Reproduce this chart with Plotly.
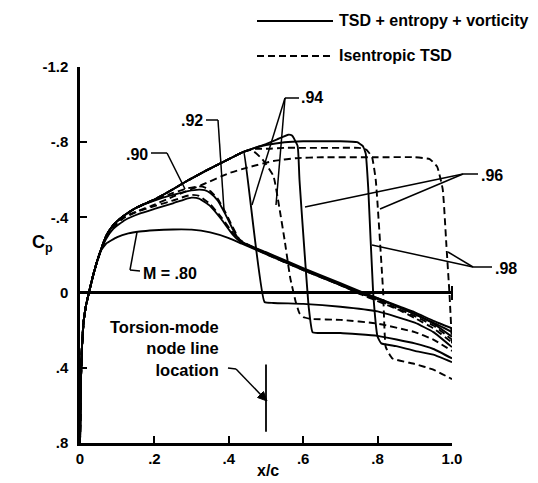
import plotly.graph_objects as go

FONT = "Liberation Sans"

# ---------------- data ----------------
# common leading-edge part shared by every curve
le_x = [0.0, 0.002, 0.005, 0.010, 0.016, 0.024, 0.035, 0.045, 0.055]
le_cp = [0.80, 0.50, 0.30, 0.15, 0.07, 0.00, -0.09, -0.16, -0.22]

# upper envelope shared by M = .94, .96, .98 (solid) ahead of the shocks
env_x = [0.07, 0.09, 0.115, 0.15, 0.20, 0.25, 0.293, 0.34, 0.38, 0.435]
env_cp = [-0.30, -0.36, -0.405, -0.45, -0.495, -0.55, -0.60, -0.65, -0.69, -0.745]

m80_x = [0.07, 0.10, 0.13, 0.16, 0.20, 0.25, 0.30, 0.35, 0.40, 0.435, 0.50, 0.60, 0.70, 0.755, 0.80, 0.86, 0.90, 0.95, 1.00]
m80_cp = [-0.26, -0.295, -0.315, -0.325, -0.332, -0.336, -0.335, -0.32, -0.29, -0.26, -0.205, -0.12, -0.04, 0.005, 0.035, 0.08, 0.115, 0.16, 0.21]

m90_x = [0.07, 0.09, 0.12, 0.16, 0.20, 0.25, 0.28, 0.30, 0.32, 0.35, 0.38, 0.41, 0.435, 0.50, 0.60, 0.70, 0.755, 0.80, 0.86, 0.90, 0.95, 1.00]
m90_solid_cp = [-0.285, -0.34, -0.385, -0.42, -0.445, -0.475, -0.495, -0.505, -0.50, -0.46, -0.39, -0.31, -0.265, -0.21, -0.125, -0.045, 0.0, 0.03, 0.075, 0.105, 0.15, 0.19]
m90_dash_cp = [-0.29, -0.35, -0.40, -0.435, -0.46, -0.49, -0.51, -0.52, -0.515, -0.47, -0.40, -0.32, -0.27, -0.205, -0.12, -0.04, 0.005, 0.04, 0.09, 0.125, 0.175, 0.25]

m92_x = [0.07, 0.09, 0.115, 0.15, 0.20, 0.25, 0.29, 0.32, 0.335, 0.35, 0.37, 0.39, 0.41, 0.43, 0.50, 0.60, 0.70, 0.755, 0.80, 0.86, 0.90, 0.95, 1.00]
m92_solid_cp = [-0.30, -0.36, -0.405, -0.45, -0.49, -0.52, -0.54, -0.548, -0.545, -0.53, -0.49, -0.42, -0.34, -0.275, -0.215, -0.13, -0.05, -0.005, 0.03, 0.08, 0.115, 0.165, 0.235]
m92_dash_cp = [-0.30, -0.36, -0.405, -0.45, -0.495, -0.53, -0.555, -0.565, -0.56, -0.54, -0.50, -0.43, -0.35, -0.28, -0.21, -0.125, -0.04, 0.01, 0.045, 0.095, 0.135, 0.19, 0.265]

m94_solid_x = [0.44, 0.496, 0.52, 0.60, 0.70, 0.80, 0.90, 0.95, 1.00]
m94_solid_cp = [-0.75, 0.05, 0.055, 0.06, 0.075, 0.10, 0.16, 0.21, 0.29]
m94_dash_x = [0.46, 0.49, 0.52, 0.536, 0.55, 0.565, 0.58, 0.59, 0.60, 0.62, 0.70, 0.80, 0.90, 0.95, 1.00]
m94_dash_cp = [-0.76, -0.71, -0.62, -0.45, -0.28, -0.08, 0.05, 0.11, 0.13, 0.14, 0.145, 0.165, 0.21, 0.25, 0.31]

m96_solid_x = [0.47, 0.50, 0.53, 0.56, 0.57, 0.585, 0.59, 0.615, 0.625, 0.64, 0.70, 0.80, 0.90, 0.95, 1.00]
m96_solid_cp = [-0.77, -0.79, -0.815, -0.84, -0.835, -0.78, -0.60, 0.08, 0.21, 0.215, 0.215, 0.23, 0.27, 0.30, 0.35]
m96_dash_x = [0.47, 0.50, 0.55, 0.60, 0.70, 0.75, 0.77, 0.785, 0.795, 0.815, 0.822, 0.84, 0.90, 0.95, 1.00]
m96_dash_cp = [-0.765, -0.765, -0.77, -0.77, -0.77, -0.77, -0.76, -0.72, -0.60, 0.0, 0.29, 0.35, 0.38, 0.41, 0.46]

m98_solid_x = [0.47, 0.50, 0.55, 0.60, 0.70, 0.745, 0.76, 0.768, 0.775, 0.788, 0.80, 0.81, 0.85, 0.90, 0.95, 1.00]
m98_solid_cp = [-0.77, -0.785, -0.80, -0.805, -0.805, -0.80, -0.78, -0.74, -0.55, 0.0, 0.235, 0.27, 0.285, 0.31, 0.33, 0.37]
m98_dash_x = [0.07, 0.09, 0.115, 0.15, 0.19, 0.25, 0.33, 0.40, 0.45, 0.52, 0.58, 0.65, 0.80, 0.90, 0.94, 0.96, 0.975, 0.985, 0.993, 1.00]
m98_dash_cp = [-0.30, -0.355, -0.40, -0.43, -0.46, -0.51, -0.575, -0.635, -0.665, -0.70, -0.715, -0.72, -0.72, -0.72, -0.71, -0.67, -0.55, -0.25, 0.0, 0.27]

node_x = [0.5, 0.5]
node_cp = [0.383, 0.74]

x_ticks = [0, 0.2, 0.4, 0.6, 0.8, 1.0]
x_ticktext = ["0", ".2", ".4", ".6", ".8", "1.0"]
y_ticks = [-1.2, -0.8, -0.4, 0, 0.4, 0.8]
y_ticktext = ["-1.2", "-.8", "-.4", "0", ".4", ".8"]

# ---------------- build curves ----------------
curves = [
    (le_x + m80_x, le_cp + m80_cp, "solid"),
    (le_x + m90_x, le_cp + m90_solid_cp, "solid"),
    (le_x + m90_x, le_cp + m90_dash_cp, "dash"),
    (le_x + m92_x, le_cp + m92_solid_cp, "solid"),
    (le_x + m92_x, le_cp + m92_dash_cp, "dash"),
    (le_x + env_x + m94_solid_x, le_cp + env_cp + m94_solid_cp, "solid"),
    (le_x + env_x + m94_dash_x, le_cp + env_cp + m94_dash_cp, "dash"),
    (le_x + env_x + m96_solid_x, le_cp + env_cp + m96_solid_cp, "solid"),
    (le_x + env_x + m96_dash_x, le_cp + env_cp + m96_dash_cp, "dash"),
    (le_x + env_x + m98_solid_x, le_cp + env_cp + m98_solid_cp, "solid"),
    (le_x + m98_dash_x, le_cp + m98_dash_cp, "dash"),
]

fig = go.Figure()
for xs, cps, style in curves:
    fig.add_trace(go.Scatter(
        x=xs, y=cps, mode="lines", showlegend=False, hoverinfo="skip",
        line=dict(color="black", width=1.9,
                  dash=("solid" if style == "solid" else "7px,4px"),
                  shape="spline", smoothing=0.4),
    ))

fig.add_trace(go.Scatter(x=node_x, y=node_cp, mode="lines", showlegend=False,
                         hoverinfo="skip", line=dict(color="black", width=1.8)))

# ---------------- layout helpers (screen pixel -> paper positions) ----------------
OFF = 8                      # page body margin of the html page
W, H = 538, 483              # browser window
L, R, T, B = 80, 452, 67, 443  # plot area in screen pixels


def px_(px):
    return (px - L) / (R - L)


def py_(py):
    return (B - py) / (B - T)


shapes = []


def poly(points, width=1.5):
    for (x0, y0), (x1, y1) in zip(points[:-1], points[1:]):
        shapes.append(dict(type="line", xref="paper", yref="paper",
                           x0=px_(x0), y0=py_(y0), x1=px_(x1), y1=py_(y1),
                           line=dict(color="black", width=width)))


# leaders
poly([(206, 120), (218, 120), (224, 210)])                       # .92
poly([(151, 153), (167, 153), (185, 189)])                       # .90
poly([(137, 232), (130, 270), (140, 271)])                       # M = .80
poly([(299, 98), (285, 98), (252, 205)])                         # .94
poly([(285, 98), (276, 205)])
poly([(478, 174), (463, 174), (305, 207)])                       # .96
poly([(463, 174), (380, 209)])
poly([(492, 267), (473, 267), (372, 245)])                       # .98
poly([(473, 267), (448, 252)])
poly([(228, 368), (236, 369), (262, 396)])                       # torsion arrow shaft
poly([(R, 286), (R, 300)], width=2)                              # cross tick at zero-line end

# arrow head (filled triangle) pointing at the node line
head = [(267, 401), (257.5, 397.5), (263.5, 391.5)]
path = "M " + " L ".join(f"{px_(a)},{py_(b)}" for a, b in head) + " Z"
shapes.append(dict(type="path", xref="paper", yref="paper", path=path,
                   fillcolor="black", line=dict(color="black", width=1)))

# legend lines
poly([(257, 21), (333, 21)], width=1.9)
shapes.append(dict(type="line", xref="paper", yref="paper",
                   x0=px_(257), x1=px_(333), y0=py_(56), y1=py_(56),
                   line=dict(color="black", width=1.9, dash="7px,4px")))


def label(px, py, text, anchor="left", size=16, align="left"):
    return dict(xref="paper", yref="paper", x=px_(px), y=py_(py), xanchor=anchor,
                yanchor="middle", text=text, showarrow=False, align=align,
                font=dict(family=FONT, size=size, color="black"))


annotations = [
    label(337, 21, "<b>TSD + entropy + vorticity</b>", size=16),
    label(337, 56, "<b>Isentropic TSD</b>", size=16),
    label(299, 97, "<b>.94</b>"),
    label(205, 120, "<b>.92</b>", anchor="right"),
    label(150, 154, "<b>.90</b>", anchor="right"),
    label(141, 273, "<b>M = .80</b>"),
    label(479, 175, "<b>.96</b>"),
    label(493, 268, "<b>.98</b>"),
    label(221, 348, "<b>Torsion-mode<br>node line<br>location</b>", anchor="right",
          align="right", size=16.5),
    label(42, 243, "<b>C<sub>p</sub></b>", anchor="center", size=18),
    label(268, 470, "<b>x/c</b>", anchor="center", size=16),
]

tf = dict(family=FONT, size=15, color="black")

fig.update_layout(
    width=W - OFF, height=H - OFF,
    margin=dict(l=L - OFF, r=W - R, t=T - OFF, b=H - B, pad=0),
    paper_bgcolor="white", plot_bgcolor="white",
    shapes=shapes, annotations=annotations,
    showlegend=False,
    font=dict(family=FONT, color="black"),
)
fig.update_xaxes(range=[0, 1.0], showline=True, linewidth=2.5, linecolor="black",
                 ticks="inside", ticklen=7, tickwidth=2, tickcolor="black",
                 tickvals=x_ticks, ticktext=[f"<b>{t}</b>" for t in x_ticktext],
                 tickfont=tf, showgrid=False, zeroline=False, automargin=False)
fig.update_yaxes(range=[0.8, -1.2], showline=True, linewidth=2.5, linecolor="black",
                 ticks="inside", ticklen=7, tickwidth=2, tickcolor="black",
                 tickvals=y_ticks, ticktext=[f"<b>{t}</b>" for t in y_ticktext],
                 tickfont=tf, showgrid=False, zeroline=True, zerolinewidth=2.5,
                 zerolinecolor="black", automargin=False, ticklabelstandoff=6)

fig.write_html("out.html")
